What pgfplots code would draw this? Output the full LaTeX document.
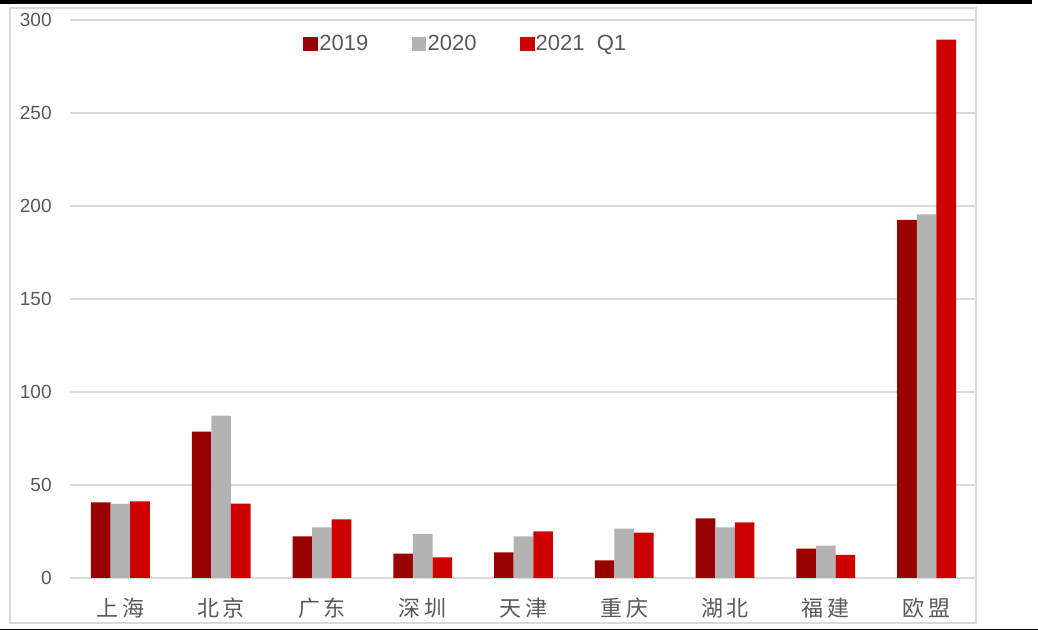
\documentclass[border=0pt]{standalone}
\usepackage{pgfplots}
\pgfplotsset{compat=1.18}
\usepackage{fontspec}
\setmainfont{Liberation Sans}
\newfontfamily\cjk{Noto Sans CJK SC}
\definecolor{c2019}{HTML}{990000}
\definecolor{c2020}{HTML}{B2B2B2}
\definecolor{c2021}{HTML}{CC0000}
\definecolor{gridgray}{HTML}{D9D9D9}
\definecolor{tickgray}{HTML}{595959}
\begin{document}
\begin{tikzpicture}
\path[use as bounding box] (0,0) rectangle (519bp,315bp);
\fill[black] (0,313bp) rectangle (516bp,315bp);
\fill[black] (0,0) rectangle (519bp,0.6bp);
\draw[gridgray, line width=1bp] (5bp,3.5bp) rectangle (488bp,311bp);
\begin{axis}[
  at={(35bp,26bp)}, anchor=south west,
  scale only axis, width=453.5bp, height=279bp,
  xmin=-0.5, xmax=8.5, ymin=0, ymax=300,
  ytick={0,50,...,300},
  xtick={0,...,8},
  xticklabels={上\,海,北\,京,广\,东,深\,圳,天\,津,重\,庆,湖\,北,福\,建,欧\,盟},
  ybar=0pt, bar width=9.8bp,
  axis line style={draw=none}, tick style={draw=none},
  ymajorgrids, grid style={color=gridgray, line width=0.9bp},
  /pgf/number format/assume math mode=true,
  yticklabel style={font=\fontsize{9.5bp}{10bp}\selectfont, text=tickgray, inner sep=0pt, anchor=east, xshift=-9bp},
  xticklabel style={font=\cjk\fontsize{11bp}{12bp}\selectfont, text=tickgray, inner sep=0pt, anchor=north, yshift=-5.5bp},
  legend style={at={(0.436,0.957)}, anchor=center, legend columns=3, draw=none, fill=none,
    font=\fontsize{11bp}{12bp}\selectfont, text=tickgray, /tikz/every even column/.append style={column sep=21bp},
    inner sep=0pt, nodes={inner sep=0.6bp}},
  legend image code/.code={\fill[#1] (0bp,-3.7bp) rectangle (7.4bp,3.7bp);},
  legend cell align=left,
]
\addplot[fill=c2019, draw=none] coordinates {(0,40.7) (1,78.7) (2,22.4) (3,13.1) (4,13.8) (5,9.5) (6,32.1) (7,15.8) (8,192.5)};
\addplot[fill=c2020, draw=none] coordinates {(0,39.8) (1,87.3) (2,27.2) (3,23.7) (4,22.4) (5,26.5) (6,27.2) (7,17.4) (8,195.5)};
\addplot[fill=c2021, draw=none] coordinates {(0,41.2) (1,40.0) (2,31.5) (3,11.1) (4,25.1) (5,24.4) (6,29.9) (7,12.4) (8,289.4)};
\legend{2019,2020,2021\ \ Q1}
\end{axis}
\end{tikzpicture}
\end{document}
